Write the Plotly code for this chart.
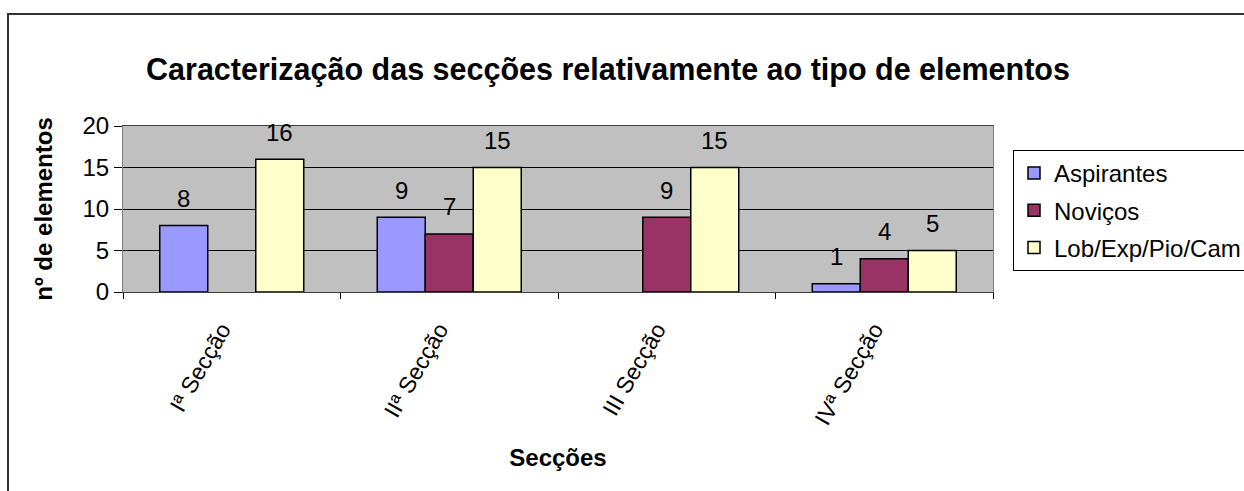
import plotly.graph_objects as go

categories = ["Iª Secção", "IIª Secção", "III Secção", "IVª Secção"]
aspirantes = [8, 9, None, 1]
novicos = [None, 7, 9, 4]
lob = [16, 15, 15, 5]
series_names = ["Aspirantes", "Noviços", "Lob/Exp/Pio/Cam"]
series_values = [aspirantes, novicos, lob]
series_colors = ["#9999FF", "#993366", "#FFFFCC"]

W, H = 1244, 491
L, R, T, B = 123, 993, 126, 292
pw, ph = R - L, B - T
BARGAP = 0.338

font = "Liberation Sans, Arial, sans-serif"
fig = go.Figure()
for i, (name, vals, col) in enumerate(zip(series_names, series_values, series_colors)):
    fig.add_trace(go.Bar(
        x=categories, y=vals, name=name, legendgroup=name,
        marker=dict(color=col, line=dict(color="black", width=1.5)),
    ))

# data labels above bars
cat_px = pw / len(categories)
bar_px = cat_px * (1 - BARGAP) / len(series_names)
for i, vals in enumerate(series_values):
    off = (i - (len(series_names) - 1) / 2) * bar_px
    for c, v in zip(categories, vals):
        if v is None:
            continue
        fig.add_annotation(x=c, y=v, text=str(v), showarrow=False,
                           xshift=off, yshift=27, yanchor="middle",
                           font=dict(size=24, color="black", family=font))

def px_x(x):
    return (x - L) / pw

def px_y(y):
    return (B - y) / ph

fig.update_layout(
    width=W, height=H,
    margin=dict(l=L, r=W - R, t=T, b=H - B, autoexpand=False),
    paper_bgcolor="white", plot_bgcolor="#C0C0C0",
    barmode="group", bargap=BARGAP, bargroupgap=0,
    font=dict(family=font, size=24, color="black"),
    title=dict(text="<b>Caracterização das secções relativamente ao tipo de elementos</b>",
               x=px_x(608), xanchor="center", xref="paper",
               y=1 - 69 / H, yanchor="middle", font=dict(size=30.5)),
    legend=dict(x=px_x(1013), y=px_y(150), xanchor="left", yanchor="top",
                bordercolor="black", borderwidth=1, bgcolor="white",
                font=dict(size=24), tracegroupgap=3, itemwidth=30,
                traceorder="grouped"),
    showlegend=True,
)
fig.update_yaxes(range=[0, 20], tickvals=[0, 5, 10, 15, 20], showgrid=True,
                 gridcolor="black", gridwidth=1, ticks="outside", ticklen=8,
                 tickcolor="black", showline=True, linecolor="#808080", zeroline=False,
                 title=dict(text="<b>nº de elementos</b>", font=dict(size=24), standoff=23),
                 tickfont=dict(size=24), mirror=True)
fig.update_xaxes(tickangle=-60, ticks="outside", tickson="boundaries", ticklen=6,
                 tickcolor="black", showline=True, linecolor="#404040", mirror=True,
                 tickfont=dict(size=23), ticklabelstandoff=14, ticklabelshift=-10,
                 title=dict(text="<b>Secções</b>", font=dict(size=24), standoff=20))

fig.add_shape(type="rect", xref="paper", yref="paper",
              x0=px_x(8), x1=px_x(1260), y0=px_y(520), y1=px_y(14),
              line=dict(color="#333333", width=2), fillcolor="rgba(0,0,0,0)", layer="above")

fig.write_html("out.html", config={"displayModeBar": False},
               post_script="document.body.style.margin='0';")
